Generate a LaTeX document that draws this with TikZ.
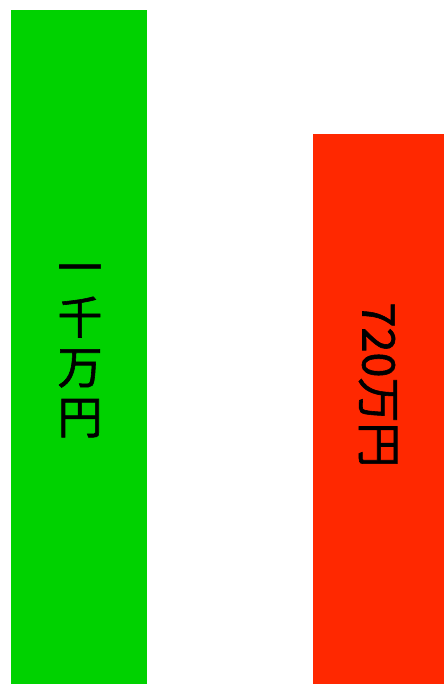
\documentclass[tikz,border=0pt]{standalone}
\usepackage{fontspec}
\newfontfamily\cjk[FakeBold=1.3]{Noto Sans CJK JP}
\usepackage{xcolor}
\usepackage{tikz}

\definecolor{bargreen}{HTML}{00D200}
\definecolor{barred}{HTML}{FF2800}

\begin{document}
\begin{tikzpicture}[
  x=0.025cm, y=-0.025cm,
  bar/.style={rectangle, draw=none, anchor=north west, inner sep=0pt},
  label/.style={font={\cjk\fontsize{32}{35.5}\selectfont}, align=center, inner sep=0pt, text=black}
]
\useasboundingbox (0,0) rectangle (444,684);

% Bars
\node[bar, fill=bargreen, minimum width=3.4cm, minimum height=16.85cm] (green) at (11,10) {};
\node[bar, fill=barred, minimum width=3.2875cm, minimum height=13.75cm] (red) at (312.5,134) {};

% Labels
\node[label] (a) at (80,351) {一\\千\\万\\円};
\node[label, rotate=-90] (b) at (378,385) {720万円};

\end{tikzpicture}
\end{document}
